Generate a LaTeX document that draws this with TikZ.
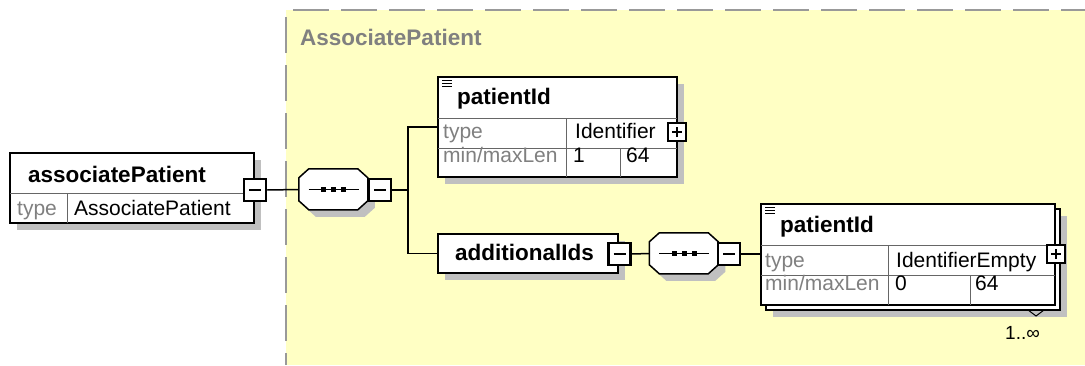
\documentclass[tikz,border=0pt]{standalone}
\usepackage{fontspec}
\setmainfont{Liberation Sans}
\usetikzlibrary{shadows}

\definecolor{bgyellow}{RGB}{255,255,196}
\definecolor{dashgray}{RGB}{153,153,153}
\definecolor{shadegray}{RGB}{192,192,192}
\definecolor{labelgray}{RGB}{128,128,128}

% octagon outline round a sequence node
\newcommand{\octpath}[2]{([shift={#2}]#1.north west) ++(10,0) -- ++(49,0) -- ++(10,9) -- ++(0,23)
    -- ++(-10,9) -- ++(-49,0) -- ++(-10,-9) -- ++(0,-23) -- cycle}
\newcommand{\seqnode}[3]{%
    \node[minimum width=69pt, minimum height=41pt] (#1) at (#2,#3) {};
    \fill[shadegray] \octpath{#1}{(7,7)};
    \draw[line width=1.5pt, fill=white] \octpath{#1}{(0,0)};
    \draw[line width=1.2pt] ([xshift=-25pt]#1.center) -- ([xshift=25pt]#1.center);
    \foreach \dx in {-10,0,10}
        \fill ([xshift=\dx pt]#1.center) ++(-2.5,-2.5) rectangle ++(5,5);
}

\begin{document}
\begin{tikzpicture}[x=1pt, y=-1pt, every node/.style={inner sep=0pt},
    eltitle/.style={font=\fontsize{22.5}{26}\selectfont\bfseries, anchor=base west},
    attrname/.style={font=\fontsize{21}{25}\selectfont, text=labelgray, anchor=base west},
    attrval/.style={font=\fontsize{21}{25}\selectfont, anchor=base west},
    elbox/.style={draw, line width=1.5pt, fill=white,
        general shadow={fill=shadegray, shadow xshift=7pt, shadow yshift=-7pt}},
    stackbox/.style={draw, line width=1.5pt, fill=white,
        general shadow={fill=shadegray, shadow xshift=12pt, shadow yshift=-12pt},
        general shadow={draw=black, fill=white, line width=1.5pt, shadow xshift=5pt, shadow yshift=-5pt}},
    divline/.style={draw=black!60, line width=1pt},
    conn/.style={line width=1.5pt},
    minusbox/.style={draw, line width=2.5pt, fill=white, minimum size=22pt,
        path picture={\draw[line width=1.5pt] ([xshift=-6pt]path picture bounding box.center)
            -- ([xshift=6pt]path picture bounding box.center);}},
    plusbox/.style={draw, line width=2pt, fill=white, minimum size=18pt,
        path picture={\draw[line width=1.5pt] ([xshift=-5pt]path picture bounding box.center)
            -- ([xshift=5pt]path picture bounding box.center);
            \draw[line width=1.5pt] ([yshift=-5pt]path picture bounding box.center)
            -- ([yshift=5pt]path picture bounding box.center);}}
]
\useasboundingbox (0,0) rectangle (1085,365);

% complex type area
\fill[bgyellow] (286,10) rectangle (1085,365);
\draw[dashgray, line width=2pt, dash pattern=on 36pt off 12pt, dash phase=41pt] (286,10) -- (1085,10);
\draw[dashgray, line width=2pt, dash pattern=on 36pt off 12pt, dash phase=41pt] (286,10) -- (286,365);
\node[font=\fontsize{22.5}{26}\selectfont\bfseries, text=labelgray, anchor=base west] (typename) at (300,45) {AssociatePatient};

% associatePatient
\node[elbox, minimum width=244pt, minimum height=70pt] (assoc) at (132,188) {};
\draw[divline] (10,193) -- (254,193);
\draw[divline] (67,193) -- (67,223);
\node[eltitle] (assoctitle) at (28,182) {associatePatient};
\node[attrname] (assoctype) at (17,215) {type};
\node[attrval] (assocval) at (74,215) {AssociatePatient};
\node[minusbox] (assoctog) at (255,190) {};

% first sequence
\seqnode{seq1}{333.5}{189.5}
\node[minusbox] (seq1tog) at (380,190) {};
\coordinate (fork) at (408,190);

% patientId
\node[elbox, minimum width=239pt, minimum height=100pt] (pid1) at (557.5,127) {};
\draw[divline] (438,118) -- (677,118);
\draw[divline] (438,148) -- (677,148);
\draw[divline] (566,118) -- (566,177);
\draw[divline] (620,148) -- (620,177);
\foreach \y in {80,83,86}
    \draw[line width=1pt] (442,\y) -- (452,\y);
\node[eltitle] (pid1title) at (457,104) {patientId};
\node[attrname] (pid1type) at (443,138) {type};
\node[attrval] (pid1typeval) at (575,138) {Identifier};
\node[attrname] (pid1len) at (443,162) {min/maxLen};
\node[attrval] (pid1min) at (573,162) {1};
\node[attrval] (pid1max) at (626,162) {64};
\node[plusbox] (pid1tog) at (677,132) {};

% additionalIds
\node[elbox, minimum width=180pt, minimum height=39pt] (addl) at (528,253.5) {};
\node[eltitle] (addltitle) at (455,260) {additionalIds};
\node[minusbox] (addltog) at (619.5,254) {};
\seqnode{seq2}{684}{253.5}
\node[minusbox] (seq2tog) at (729,254) {};

% patientId, 1..oo
\node[stackbox, minimum width=294pt, minimum height=101pt] (pid2) at (908,254.5) {};
\draw[line width=1pt] (1028,310) -- (1036,316) -- (1044,310);
\draw[divline] (761,245) -- (1055,245);
\draw[divline] (761,275) -- (1055,275);
\draw[divline] (888,245) -- (888,305);
\draw[divline] (970,275) -- (970,305);
\foreach \y in {207,210,213}
    \draw[line width=1pt] (765,\y) -- (775,\y);
\node[eltitle] (pid2title) at (780,232) {patientId};
\node[attrname] (pid2type) at (765,267) {type};
\node[attrval] (pid2typeval) at (896,267) {IdentifierEmpty};
\node[attrname] (pid2len) at (765,290) {min/maxLen};
\node[attrval] (pid2min) at (895,290) {0};
\node[attrval] (pid2max) at (975,290) {64};
\node[plusbox] (pid2tog) at (1056,254) {};
\node[attrval, font=\fontsize{19}{23}\selectfont] (pid2card) at (1005,339) {1..∞};

% connectors
\draw[conn] (assoctog.east) -- (seq1.west);
\draw[conn] (seq1tog.east) -- (fork);
\draw[conn] (pid1.west) -| (fork) |- (addl.west);
\draw[conn] (addltog.east) -- (seq2.west);
\draw[conn] (seq2tog.east) -- (seq2tog.east -| pid2.west);
\end{tikzpicture}
\end{document}
